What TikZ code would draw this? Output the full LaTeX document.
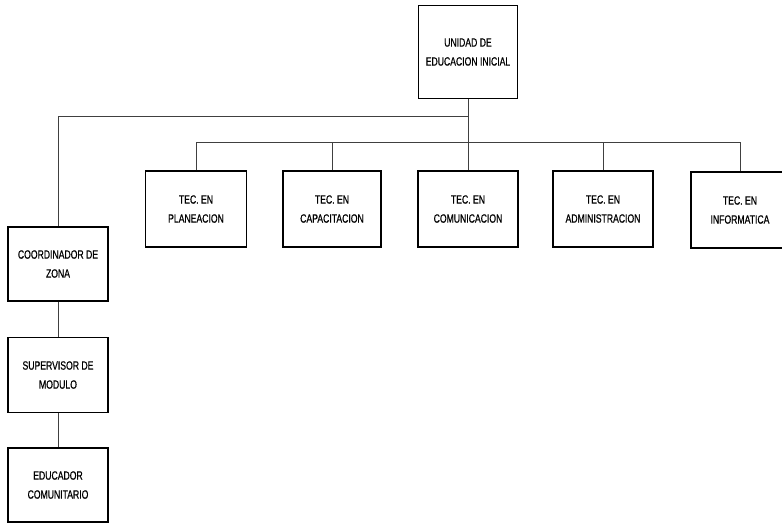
\documentclass[tikz,border=0pt]{standalone}
\usepackage{fontspec}
\setmainfont{Liberation Sans}[FakeStretch=0.72,FakeBold=0.6]
\begin{document}
\begin{tikzpicture}[x=1pt,y=-1pt,
  box/.style={draw=black,line width=1.6pt,fill=white,align=center,inner sep=1pt,
    font=\fontsize{12}{19}\selectfont,text=black},
  conn/.style={draw=black!75,line width=0.8pt}]
\fill[white] (0,0) rectangle (782,523);
\useasboundingbox (0,0) rectangle (782,523);
\node[box,minimum width=99pt,minimum height=93pt] (top) at (468,52) {UNIDAD DE\\EDUCACION INICIAL};
\node[box,minimum width=101pt,minimum height=76pt] (plan) at (196,209) {TEC. EN\\PLANEACION};
\node[box,minimum width=98pt,minimum height=76pt] (cap) at (332,209) {TEC. EN\\CAPACITACION};
\node[box,minimum width=100pt,minimum height=76pt] (com) at (468,209) {TEC. EN\\COMUNICACION};
\node[box,minimum width=100pt,minimum height=76pt] (adm) at (603,209) {TEC. EN\\ADMINISTRACION};
\node[box,minimum width=98pt,minimum height=76pt] (inf) at (740,210) {TEC. EN\\INFORMATICA};
\node[box,minimum width=100pt,minimum height=74pt] (coord) at (58,264) {COORDINADOR DE\\ZONA};
\node[box,minimum width=100pt,minimum height=75pt] (sup) at (58,375) {SUPERVISOR DE\\MODULO};
\node[box,minimum width=100pt,minimum height=74pt] (edu) at (58,485) {EDUCADOR\\COMUNITARIO};
\coordinate (j1) at (468,116);
\coordinate (j2) at (468,142);
\draw[conn] (top.south) -- (j1) -| (coord.north);
\draw[conn] (j1) -- (j2);
\draw[conn] (plan.north) |- (inf.north |- j2) -- (inf.north);
\draw[conn] (cap.north) -- (cap.north |- j2);
\draw[conn] (com.north) -- (j2);
\draw[conn] (adm.north) -- (adm.north |- j2);
\draw[conn] (coord.south) -- (sup.north);
\draw[conn] (sup.south) -- (edu.north);
\end{tikzpicture}
\end{document}
